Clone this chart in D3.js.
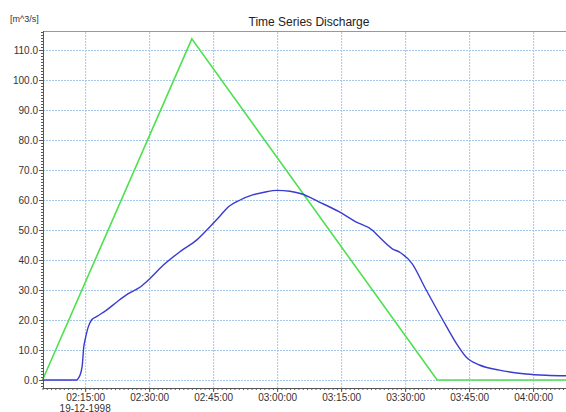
<!DOCTYPE html>
<html>
<head>
<meta charset="utf-8">
<script src="https://cdn.jsdelivr.net/npm/d3@7"></script>
<style>
  body { margin: 0; background: #fff; }
  svg { display: block; font-family: "Liberation Sans", Arial, sans-serif; }
  .grid line { stroke: #a4c8ea; stroke-dasharray: 2,1; }
  .grid path { display: none; }
  .axis text { fill: #333; font-size: 10px; }
  .axis line, .axis path { stroke: #555; }
</style>
</head>
<body>
<svg id="chart" width="566" height="412"></svg>
<script>
// time series (all on 19-12-1998)
let blueTimes = ["02:05:00","02:13:00","02:13:30","02:14:00","02:14:20","02:14:40","02:15:00","02:15:45",
  "02:16:30","02:17:45","02:20:00","02:22:30","02:25:00","02:28:00","02:30:15","02:33:20","02:37:15",
  "02:41:10","02:44:15","02:46:30","02:48:10","02:51:20","02:54:15","02:57:00","03:00:00","03:03:00",
  "03:05:50","03:09:45","03:14:30","03:18:20","03:22:15","03:23:50","03:26:55","03:28:50","03:31:35",
  "03:34:45","03:38:50","03:42:00","03:44:20","03:47:25","03:52:05","03:58:20","04:03:00","04:10:00"];
let blueValues = [0,0,0.8,2.5,5,11,13.5,17.8,
  20,21.2,23.3,26.1,28.7,31.1,33.9,38.3,42.8,
  46.7,51.1,54.5,57.2,60,61.7,62.6,63.2,62.9,
  62,59.4,56.1,52.8,50,47.8,43.8,42.5,38.9,
  30.5,20,12.2,7.6,5,3.3,2,1.6,1.4];

let greenTimes = ["02:05:00","02:40:00","03:37:30","04:10:00"];
let greenValues = [0,113.7,0,0];

let yTicks = [0,10,20,30,40,50,60,70,80,90,100,110];
let title = "Time Series Discharge";
let unitLabel = "[m^3/s]";
let dateLabel = "19-12-1998";

let svg = d3.select("#chart");
let parse = d3.timeParse("%H:%M:%S");
let pLeft = 43, pRight = 566, pTop = 31, pBottom = 388;

let xScale = d3.scaleTime()
    .domain([parse("02:05:00"), parse("04:10:00")])
    .range([42.5, 575.8]);
let yScale = d3.scaleLinear()
    .domain([-2.667, 116.333])
    .range([pBottom, pTop]);

let xMajor = xScale.ticks(d3.timeMinute.every(15));

// grid
svg.append("g").attr("class","grid")
    .attr("transform","translate(0,"+pBottom+")")
    .call(d3.axisBottom(xScale).tickValues(xMajor).tickSize(-(pBottom-pTop)).tickFormat(""));
svg.append("g").attr("class","grid")
    .attr("transform","translate("+pLeft+",0)")
    .call(d3.axisLeft(yScale).tickValues(yTicks).tickSize(-(pRight-pLeft)).tickFormat(""));

// top border
svg.append("line").attr("x1",pLeft).attr("x2",pRight).attr("y1",pTop+0.5).attr("y2",pTop+0.5)
    .attr("stroke","#999");

// lines
svg.append("clipPath").attr("id","clip").append("rect")
    .attr("x",pLeft-1).attr("y",pTop).attr("width",pRight-pLeft+1).attr("height",pBottom-pTop);

let line = d3.line()
    .x(d => xScale(parse(d[0])))
    .y(d => yScale(d[1]));

let plot = svg.append("g").attr("clip-path","url(#clip)");
plot.append("path")
    .datum(d3.zip(greenTimes, greenValues))
    .attr("fill","none").attr("stroke","#4ee04e").attr("stroke-width",1.6)
    .attr("d", line);
plot.append("path")
    .datum(d3.zip(blueTimes, blueValues))
    .attr("fill","none").attr("stroke","#3b3bd0").attr("stroke-width",1.4)
    .attr("d", line.curve(d3.curveMonotoneX));

// axes: minor ticks
let yMinor = d3.range(-2, 117, 1);
svg.append("g").attr("class","axis")
    .attr("transform","translate("+pLeft+",0)")
    .call(d3.axisLeft(yScale).tickValues(yMinor).tickSize(2).tickSizeOuter(0).tickFormat(""));
let xMinor = xScale.ticks(d3.timeMinute.every(1));
svg.append("g").attr("class","axis")
    .attr("transform","translate(0,"+pBottom+")")
    .call(d3.axisBottom(xScale).tickValues(xMinor.filter(d => xScale(d) <= pRight)).tickSize(2).tickSizeOuter(0).tickFormat(""));

// axes: major ticks + labels
let yAxis = svg.append("g").attr("class","axis")
    .attr("transform","translate("+pLeft+",0)")
    .call(d3.axisLeft(yScale).tickValues(yTicks).tickSize(4).tickSizeOuter(0).tickFormat(d3.format(".1f")));
yAxis.select(".domain").remove();
yAxis.selectAll(".tick text").attr("x",-5);

let xAxis = svg.append("g").attr("class","axis")
    .attr("transform","translate(0,"+pBottom+")")
    .call(d3.axisBottom(xScale).tickValues(xMajor).tickSize(4).tickSizeOuter(0).tickFormat(d3.timeFormat("%H:%M:%S")));
xAxis.select(".domain").remove();
xAxis.selectAll(".tick text").attr("y",6);

// axis lines
svg.append("line").attr("x1",pLeft+0.5).attr("x2",pLeft+0.5).attr("y1",pTop).attr("y2",pBottom)
    .attr("stroke","#555");
svg.append("line").attr("x1",pLeft).attr("x2",pRight).attr("y1",pBottom+0.5).attr("y2",pBottom+0.5)
    .attr("stroke","#555");

// texts
svg.append("text").attr("x",309).attr("y",26).attr("text-anchor","middle")
    .attr("font-size","12px").attr("fill","#222").text(title);
svg.append("text").attr("x",10).attr("y",22)
    .attr("font-size","9px").attr("fill","#333").text(unitLabel);
svg.append("text").attr("x",xScale(xMajor[0])).attr("y",411.5).attr("text-anchor","middle")
    .attr("font-size","10px").attr("fill","#333").text(dateLabel);
</script>
</body>
</html>
